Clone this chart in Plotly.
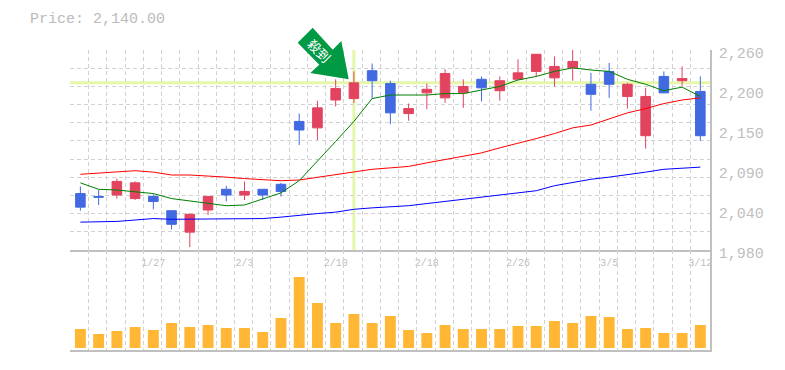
import plotly.graph_objects as go

dates_idx = [4, 9, 14, 19, 24, 29, 34]
date_labels = ["1/27", "2/3", "2/10", "2/18", "2/26", "3/5", "3/12"]

opens = [2059, 2055, 2057, 2052, 2055, 2035, 2005, 2036, 2065, 2057, 2065, 2072,
         2160, 2151, 2190, 2192, 2231, 2213, 2171, 2200, 2193, 2200, 2219, 2203,
         2219, 2230, 2221, 2235, 2212, 2230, 2195, 2140, 2223, 2217, 2202]
highs = [2069, 2064, 2080, 2076, 2058, 2035, 2031, 2055, 2070, 2076, 2065, 2074,
         2171, 2189, 2219, 2230, 2241, 2217, 2185, 2213, 2233, 2219, 2223, 2223,
         2247, 2254, 2251, 2260, 2228, 2242, 2214, 2207, 2230, 2237, 2223]
lows = [2035, 2043, 2052, 2050, 2037, 2009, 1984, 2029, 2048, 2050, 2050, 2055,
        2127, 2134, 2181, 2186, 2192, 2156, 2161, 2177, 2186, 2179, 2188, 2189,
        2219, 2222, 2209, 2217, 2175, 2193, 2178, 2122, 2200, 2210, 2133]
closes = [2040, 2054, 2076, 2074, 2048, 2016, 2030, 2055, 2057, 2062, 2057, 2062,
          2148, 2179, 2206, 2214, 2217, 2172, 2178, 2205, 2227, 2209, 2207, 2217,
          2228, 2254, 2237, 2244, 2198, 2212, 2212, 2195, 2200, 2220, 2140]
ma5 = [2074, 2065, 2064, 2062, 2059, 2052, 2049, 2046, 2042, 2043, 2052, 2060,
       2077, 2104, 2132, 2160, 2192, 2197, 2197, 2197, 2199, 2199, 2204, 2209,
       2218, 2223, 2230, 2235, 2232, 2230, 2219, 2212, 2203, 2208, 2195]
ma25 = [2086, 2088, 2090, 2091, 2089, 2085, 2085, 2084, 2082, 2080, 2078, 2077,
        2078, 2082, 2086, 2090, 2093, 2095, 2097, 2102, 2107, 2112, 2116, 2123,
        2129, 2136, 2143, 2151, 2155, 2163, 2172, 2178, 2185, 2190, 2193]
ma75 = [2019, 2019, 2020, 2022, 2024, 2023, 2023, 2024, 2024, 2024, 2024, 2026,
        2029, 2031, 2033, 2037, 2039, 2040, 2042, 2045, 2048, 2051, 2054, 2058,
        2061, 2063, 2070, 2075, 2079, 2082, 2085, 2089, 2093, 2095, 2096]
volume = [19, 14, 17, 21, 18, 25, 21, 23, 20, 20, 16, 30, 71, 45, 25, 34, 25, 32,
          18, 15, 23, 19, 19, 19, 22, 22, 27, 25, 32, 31, 19, 20, 15, 15, 23]
price_ticks = [2260, 2204, 2148, 2092, 2036, 1980]
price_labels = ["2,260", "2,200", "2,150", "2,090", "2,040", "1,980"]
title_text = "Price: 2,140.00"
badge_text = "殺到"
signal_idx = 15

W, H = 785, 370
L, T, PW, PH = 70, 50, 640, 300
idx = list(range(len(closes)))
GRAY = "#c0c0c0"
GRID = "#d2d2d2"
DASH = "4px,3px"
MONO = "Liberation Mono"


def px(x):
    return (x - L) / PW


def py(y):
    return 1 - (y - T) / PH


fig = go.Figure()
for ys, col in ((ma75, "#0000ff"), (ma25, "#ff0000"), (ma5, "#008000")):
    fig.add_trace(go.Scatter(x=idx, y=ys, mode="lines", line=dict(color=col, width=1),
                             hoverinfo="skip", showlegend=False, xaxis="x", yaxis="y"))
fig.add_trace(go.Candlestick(
    x=idx, open=opens, high=highs, low=lows, close=closes, whiskerwidth=0,
    increasing=dict(line=dict(color="#e2435f", width=1), fillcolor="#e2435f"),
    decreasing=dict(line=dict(color="#4169e1", width=1), fillcolor="#4169e1"),
    hoverinfo="skip", showlegend=False, xaxis="x", yaxis="y"))
fig.add_trace(go.Bar(x=idx, y=volume, width=0.6, marker=dict(color="#ffb735", line_width=0),
                     hoverinfo="skip", showlegend=False, xaxis="x2", yaxis="y2"))

xr = [-0.57, 34.53]
grid_x = [i - 0.55 for i in range(len(closes))]
grid_y = [2260 - 0.01 - k * 280 / 11 for k in range(11)]

x_common = dict(range=xr, showgrid=False, zeroline=False, showline=True, linecolor=GRAY, linewidth=1.5,
                tickmode="array", automargin=False,
                minor=dict(tickmode="array", tickvals=grid_x, showgrid=True, gridcolor=GRID,
                           griddash=DASH, gridwidth=1, ticks=""))

fig.update_layout(
    width=W, height=H, margin=dict(l=L, r=W - L - PW, t=T, b=H - T - PH, autoexpand=False),
    paper_bgcolor="white", plot_bgcolor="white", showlegend=False,
    title=dict(text=title_text, x=30 / W, xanchor="left", xref="container", automargin=False,
               y=1 - 18 / H, yanchor="middle", font=dict(family=MONO, size=15, color="#bbbbbb")),
    boxgap=0.25,
    xaxis=dict(**x_common, anchor="y", rangeslider=dict(visible=False),
               tickvals=dates_idx, ticktext=date_labels,
               ticks="outside", ticklen=2, tickcolor="rgba(0,0,0,0)",
               tickfont=dict(family=MONO, size=10, color=GRAY)),
    xaxis2=dict(**x_common, anchor="y2", tickvals=[], showticklabels=False, ticks=""),
    yaxis=dict(domain=[1 / 3, 1], range=[1980, 2260], side="right", anchor="x", showline=True,
               linecolor=GRAY, linewidth=1.5, zeroline=False, showgrid=False, automargin=False,
               ticks="outside", ticklen=4, tickcolor="rgba(0,0,0,0)",
               tickmode="array", tickvals=price_ticks, ticktext=price_labels, ticklabelshift=3,
               tickfont=dict(family=MONO, size=15, color=GRAY),
               minor=dict(tickmode="array", tickvals=grid_y, showgrid=True, gridcolor=GRID,
                          griddash=DASH, gridwidth=1, ticks="")),
    yaxis2=dict(domain=[0, 1 / 3], range=[-2, 98], side="right", anchor="x2", showline=True,
                linecolor=GRAY, linewidth=1.5, zeroline=False, showgrid=False, ticks="",
                showticklabels=False, automargin=False),
    shapes=[
        dict(type="line", xref="x domain", yref="y", x0=0, x1=1, y0=closes[signal_idx], y1=closes[signal_idx],
             line=dict(color="#e5f7a8", width=3), layer="below"),
        dict(type="line", xref="x", yref="y domain", x0=signal_idx, x1=signal_idx, y0=0, y1=1,
             line=dict(color="#e5f7a8", width=3), layer="below"),
        dict(type="path", xref="paper", yref="paper", fillcolor="#009944", line=dict(width=0), layer="above",
             path="M " + " L ".join(f"{px(a):.4f},{py(b):.4f}" for a, b in
                                    [(312.7, 27.7), (297.7, 42.7), (319.3, 64.7), (310.3, 73),
                                     (348.7, 79.3), (341.3, 41), (332.7, 49.7)]) + " Z"),
    ],
    annotations=[dict(text=badge_text, xref="paper", yref="paper", x=px(319), y=py(51), showarrow=False,
                      xanchor="center", yanchor="middle", textangle=45,
                      font=dict(family="Noto Sans CJK JP", size=13, color="white"))],
)
fig.write_html("out.html", config=dict(displayModeBar=False),
               post_script="document.body.style.margin='0';")
